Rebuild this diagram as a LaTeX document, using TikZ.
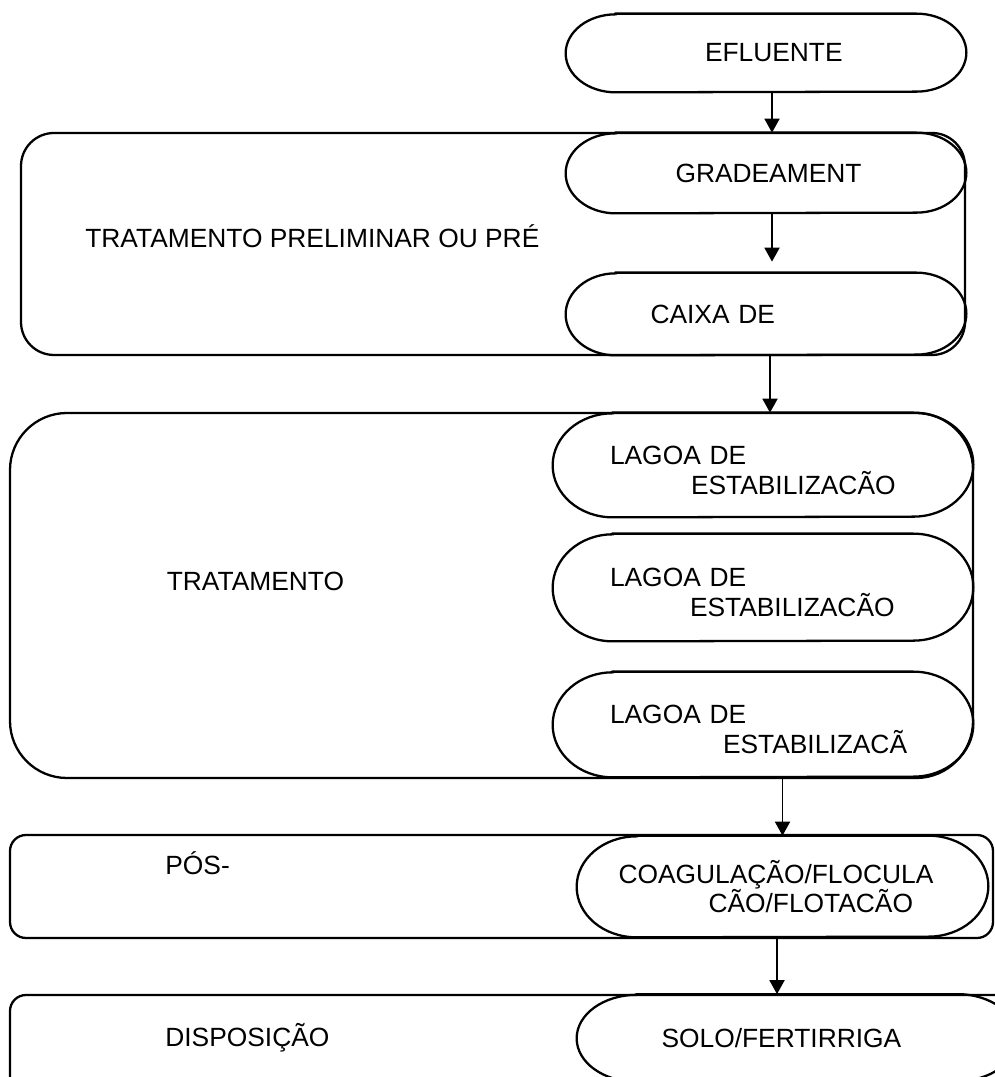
\documentclass[tikz,border=0pt]{standalone}
\usepackage{fontspec}
\setmainfont{Liberation Sans}
\usetikzlibrary{arrows.meta,positioning}

% outline of a terminal: node, x radius, y radius
\newcommand{\drawcapsule}[3]{%
  \draw[capline] ([xshift=#2]#1.north west) -- ([xshift=-#2]#1.north east)
    arc[start angle=90, end angle=-90, x radius=#2, y radius=#3]
    -- ([xshift=#2]#1.south west)
    arc[start angle=270, end angle=90, x radius=#2, y radius=#3] -- cycle;}
\newcommand{\lagstrut}{\rule{0pt}{0.58cm}}

\begin{document}
\begin{tikzpicture}[
    font=\fontsize{15}{17}\selectfont,
    stagebox/.style={draw, line width=1.3pt, inner sep=0pt},
    capsule/.style={inner sep=0pt, align=left},
    capline/.style={line width=1.3pt},
    stagelabel/.style={inner sep=0pt, anchor=base west},
    arrow/.style={-{Triangle[length=0.28cm, width=0.3cm]}, line width=1.1pt}
]
\useasboundingbox (0,0) rectangle (19.9,21.54);
\clip (0,0) rectangle (19.9,21.54);

% stage boxes
\node[stagebox, minimum width=18.88cm, minimum height=4.44cm, rounded corners=0.66cm] (pre) at (9.86,16.66) {};
\node[stagebox, minimum width=19.26cm, minimum height=7.30cm, rounded corners=1.14cm] (trat) at (9.83,9.63) {};
\node[stagebox, minimum width=19.66cm, minimum height=2.06cm, rounded corners=0.32cm] (pos) at (10.03,3.81) {};
\node[stagebox, minimum width=20.2cm, minimum height=2.24cm, rounded corners=0.32cm] (disp) at (10.3,0.52) {};

\node[stagelabel] (lblpre) at (1.70,16.58) {TRATAMENTO PRELIMINAR OU PRÉ};
\node[stagelabel] (lbltrat) at (3.33,9.72) {TRATAMENTO};
\node[stagelabel] (lblpos) at (3.30,4.04) {PÓS-};
\node[stagelabel] (lbldisp) at (3.30,0.60) {DISPOSIÇÃO};

% terminals
\node[capsule, text width=8cm, minimum height=1.56cm] (efl) at (15.32,20.48) {\hspace*{2.78cm}EFLUENTE};
\node[capsule, text width=8cm, minimum height=1.60cm] (gra) at (15.32,18.08) {\hspace*{2.19cm}GRADEAMENT};
\node[capsule, text width=8cm, minimum height=1.64cm] (cxa) at (15.32,15.26) {\hspace*{1.69cm}CAIXA DE};
\node[capsule, text width=8.4cm, minimum height=2.08cm] (lag1) at (15.26,12.24) {\lagstrut\hspace*{1.14cm}LAGOA DE\\\hspace*{2.76cm}ESTABILIZACÃO};
\node[capsule, text width=8.4cm, minimum height=2.14cm] (lag2) at (15.26,9.79) {\lagstrut\hspace*{1.14cm}LAGOA DE\\\hspace*{2.74cm}ESTABILIZACÃO};
\node[capsule, text width=8.4cm, minimum height=2.10cm] (lag3) at (15.26,7.05) {\lagstrut\hspace*{1.14cm}LAGOA DE\\\hspace*{3.40cm}ESTABILIZACÃ};
\node[capsule, text width=8.22cm, minimum height=2.02cm] (coag) at (15.65,3.81) {\hspace*{0.83cm}COAGULAÇÃO/FLOCULA\\\hspace*{2.63cm}CÃO/FLOTACÃO};
\node[capsule, text width=8.8cm, minimum height=1.74cm] (solo) at (15.94,0.78) {\hspace*{1.69cm}SOLO/FERTIRRIGA};

\drawcapsule{efl}{1.0cm}{0.78cm}
\drawcapsule{gra}{1.0cm}{0.80cm}
\drawcapsule{cxa}{1.0cm}{0.82cm}
\drawcapsule{lag1}{1.2cm}{1.04cm}
\drawcapsule{lag2}{1.2cm}{1.07cm}
\drawcapsule{lag3}{1.2cm}{1.05cm}
\drawcapsule{coag}{1.2cm}{1.01cm}
\drawcapsule{solo}{1.2cm}{0.87cm}

\draw[arrow] ([xshift=0.12cm]efl.south) -- ([xshift=0.12cm]gra.north);
\draw[arrow, shorten >=0.22cm] ([xshift=0.12cm]gra.south) -- ([xshift=0.12cm]cxa.north);
\draw[arrow] ([xshift=0.08cm]cxa.south) -- ([xshift=0.14cm]lag1.north);
\draw[arrow] (lag3.south -| coag.north) -- (coag.north);
\draw[arrow] ([xshift=-0.11cm]coag.south) -- ([xshift=-0.40cm]solo.north);

\end{tikzpicture}
\end{document}
